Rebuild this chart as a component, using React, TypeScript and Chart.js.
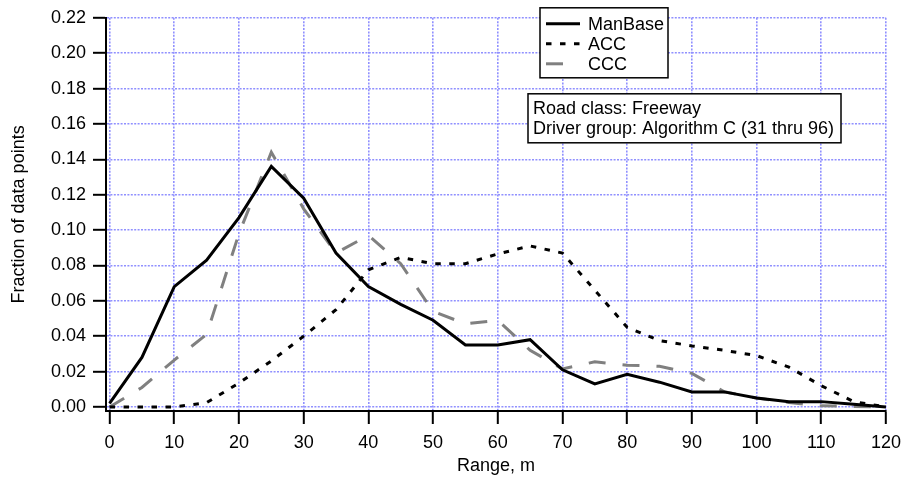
import React, { useEffect, useRef } from "react";
import { Chart, registerables } from "chart.js";

Chart.register(...registerables);

const ranges = [0, 5, 10, 15, 20, 25, 30, 35, 40, 45, 50, 55, 60, 65, 70, 75, 80, 85, 90, 95, 100, 105, 110, 115, 120];
const manBase = [0.002, 0.028, 0.068, 0.083, 0.107, 0.136, 0.118, 0.087, 0.068, 0.058, 0.049, 0.035, 0.035, 0.038, 0.021, 0.013, 0.0185, 0.014, 0.0085, 0.0085, 0.005, 0.003, 0.003, 0.0015, 0.0];
const acc = [0.0, 0.0, 0.0, 0.0024, 0.0135, 0.026, 0.04, 0.055, 0.0775, 0.0845, 0.081, 0.081, 0.0865, 0.091, 0.087, 0.066, 0.045, 0.0375, 0.0345, 0.032, 0.029, 0.0225, 0.012, 0.003, 0.0];
const ccc = [0.0, 0.011, 0.0265, 0.041, 0.098, 0.144, 0.112, 0.087, 0.097, 0.081, 0.054, 0.047, 0.049, 0.032, 0.0215, 0.0255, 0.0236, 0.023, 0.019, 0.0086, 0.005, 0.0025, 0.0006, 0.0003, 0.0];
const seriesNames = ["ManBase", "ACC", "CCC"];
const xTickValues = [0, 10, 20, 30, 40, 50, 60, 70, 80, 90, 100, 110, 120];
const yTickValues = [0, 0.02, 0.04, 0.06, 0.08, 0.1, 0.12, 0.14, 0.16, 0.18, 0.2, 0.22];
const annotationLines = ["Road class: Freeway", "Driver group: Algorithm C (31 thru 96)"];
const xTitle = "Range, m";
const yTitle = "Fraction of data points";

const FONT = '"Liberation Sans", Arial, Helvetica, sans-serif';

const overlayPlugin = {
  id: "overlayBoxes",
  afterDatasetsDraw(chart: any) {
    const ctx = chart.ctx as CanvasRenderingContext2D;
    const a = chart.chartArea;
    ctx.save();
    ctx.font = `18px ${FONT}`;
    ctx.textBaseline = "middle";
    ctx.textAlign = "left";

    // legend box
    const lx = a.left + 434;
    const ly = a.top - 10;
    const lw = 128;
    const lh = 70;
    ctx.fillStyle = "#fff";
    ctx.fillRect(lx, ly, lw, lh);
    ctx.strokeStyle = "#000";
    ctx.lineWidth = 1.5;
    ctx.setLineDash([]);
    ctx.strokeRect(lx, ly, lw, lh);
    chart.data.datasets.forEach((ds: any, i: number) => {
      const y = ly + 16 + i * 20;
      ctx.beginPath();
      ctx.setLineDash(ds.borderDash || []);
      ctx.strokeStyle = ds.borderColor;
      ctx.lineWidth = ds.borderWidth;
      ctx.lineCap = "butt";
      ctx.moveTo(lx + 6, y);
      ctx.lineTo(lx + 40, y);
      ctx.stroke();
      ctx.setLineDash([]);
      ctx.fillStyle = "#000";
      ctx.fillText(ds.label, lx + 48, y + 1);
    });

    // annotation box
    const ax = a.left + 422;
    const ay = a.top + 76;
    const aw = 313;
    const ah = 49;
    ctx.fillStyle = "#fff";
    ctx.fillRect(ax, ay, aw, ah);
    ctx.strokeStyle = "#000";
    ctx.lineWidth = 1.5;
    ctx.strokeRect(ax, ay, aw, ah);
    ctx.fillStyle = "#000";
    annotationLines.forEach((t, i) => {
      ctx.fillText(t, ax + 5, ay + 15 + i * 20);
    });
    ctx.restore();
  },
};

export default function App() {
  const canvasRef = useRef<HTMLCanvasElement | null>(null);

  useEffect(() => {
    const canvas = canvasRef.current;
    if (!canvas) return;
    const gridCommon = {
      color: "#9090ff",
      lineWidth: 1.6,
      drawTicks: true,
      tickLength: 13,
      tickColor: "#000",
      tickWidth: 2,
      tickBorderDash: [],
    };
    const borderCommon = { display: true, color: "#000", width: 2, dash: [2, 1.4] };
    const chart = new Chart(canvas, {
      type: "line",
      data: {
        datasets: [
          {
            label: seriesNames[0],
            data: ranges.map((r, i) => ({ x: r, y: manBase[i] })),
            borderColor: "#000000",
            borderWidth: 3,
            pointRadius: 0,
            tension: 0,
            fill: false,
          },
          {
            label: seriesNames[1],
            data: ranges.map((r, i) => ({ x: r, y: acc[i] })),
            borderColor: "#000000",
            borderWidth: 3,
            borderDash: [5.5, 8.5],
            pointRadius: 0,
            tension: 0,
            fill: false,
          },
          {
            label: seriesNames[2],
            data: ranges.map((r, i) => ({ x: r, y: ccc[i] })),
            borderColor: "#808080",
            borderWidth: 3,
            borderDash: [17, 17],
            pointRadius: 0,
            tension: 0,
            fill: false,
          },
        ],
      },
      options: {
        responsive: false,
        animation: false,
        devicePixelRatio: 1,
        layout: { padding: { left: 0, top: 15, right: 15, bottom: 0 } },
        plugins: {
          legend: { display: false },
          tooltip: { enabled: false },
        },
        scales: {
          x: {
            type: "linear",
            min: -0.55,
            max: 120,
            afterBuildTicks: (scale: any) => {
              scale.ticks = xTickValues.map((v) => ({ value: v }));
            },
            afterFit: (scale: any) => {
              scale.height = 67;
            },
            grid: gridCommon,
            border: borderCommon,
            ticks: {
              color: "#000",
              font: { family: FONT, size: 18 },
              padding: 8,
              maxRotation: 0,
              autoSkip: false,
              callback: (v: any) => String(v),
            },
            title: {
              display: true,
              text: xTitle,
              color: "#000",
              font: { family: FONT, size: 18 },
              padding: { top: 0, bottom: 1 },
            },
          },
          y: {
            type: "linear",
            min: -0.0023,
            max: 0.22,
            afterBuildTicks: (scale: any) => {
              scale.ticks = yTickValues.map((v) => ({ value: v }));
            },
            afterFit: (scale: any) => {
              scale.width = 106;
            },
            grid: gridCommon,
            border: borderCommon,
            ticks: {
              color: "#000",
              font: { family: FONT, size: 18 },
              padding: 7,
              autoSkip: false,
              callback: (v: any) => Number(v).toFixed(2),
            },
            title: {
              display: true,
              text: yTitle,
              color: "#000",
              font: { family: FONT, size: 18 },
              padding: { top: 8, bottom: 0 },
            },
          },
        },
      },
      plugins: [overlayPlugin],
    } as any);
    return () => {
      chart.destroy();
    };
  }, []);

  return (
    <div style={{ position: "fixed", left: 0, top: 0, width: 909, height: 478, background: "#fff" }}>
      <canvas ref={canvasRef} width={909} height={478} style={{ display: "block" }} />
    </div>
  );
}
